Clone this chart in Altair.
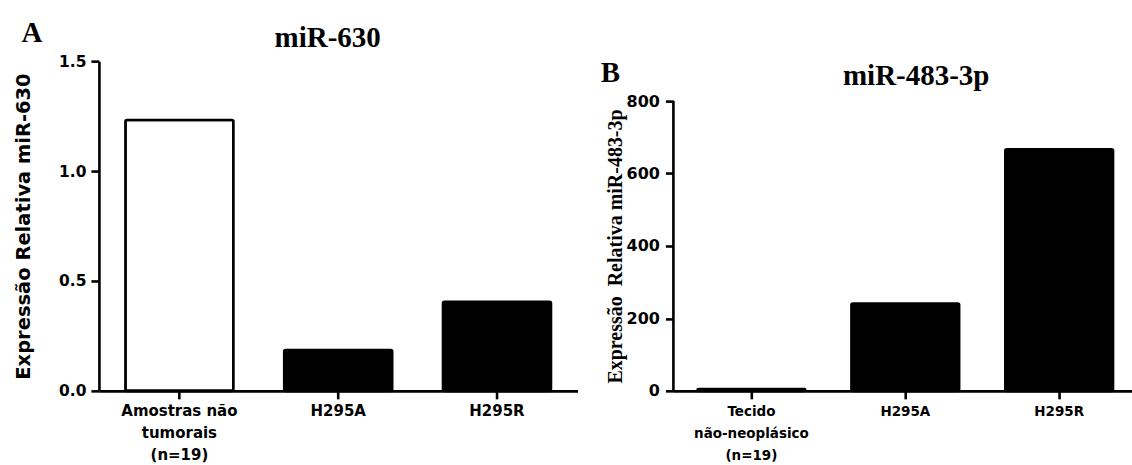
import altair as alt
import pandas as pd

# ---- miR-630 (painel A) ----
grupos_a = ["Amostras não|tumorais|(n=19)", "H295A", "H295R"]
tipos_a = ["controle", "linhagem", "linhagem"]
expr_a = [1.232, 0.186, 0.405]
ticks_a = [0.0, 0.5, 1.0, 1.5]

# ---- miR-483-3p (painel B) ----
grupos_b = ["Tecido|não-neoplásico|(n=19)", "H295A", "H295R"]
tipos_b = ["controle", "linhagem", "linhagem"]
expr_b = [5, 241, 667]
ticks_b = [0, 200, 400, 600, 800]

letras = ["A", "B"]
titulos = ["miR-630", "miR-483-3p"]
titulos_y = ["Expressão Relativa miR-630", "Expressão\u00a0 Relativa miR-483-3p"]

SANS = "DejaVu Sans"
SERIF = "Liberation Serif"
LW = 2.6

H = 330
H_B = 290          # pixel height of the 0-800 span in panel B
W_A, W_B = 479, 459
# panel B keeps the same pixel height; its axis stops at the last tick
Y_MAX_B = ticks_b[-1] * H / H_B


def eixo_x(label_size, padding):
    return alt.Axis(
        title=None, labelAngle=0, labelExpr="split(datum.label, '|')",
        labelFont=SANS, labelFontWeight="bold", labelFontSize=label_size,
        labelColor="black", labelLineHeight=22, labelPadding=padding,
        labelBaseline="top", labelLimit=0,
        tickSize=8, tickWidth=LW, tickColor="black",
        domainColor="black", domainWidth=LW, grid=False,
    )


def texto(valor, font, size, x, y):
    return alt.Chart(pd.DataFrame({"t": [valor]})).mark_text(
        font=font, fontWeight="bold", fontSize=size, color="black",
        align="center", baseline="alphabetic",
    ).encode(text="t:N", x=alt.value(x), y=alt.value(y))


# Painel A
df_a = pd.DataFrame({"grupo": grupos_a, "tipo": tipos_a, "valor": expr_a})
barras_a = alt.Chart(df_a).mark_bar(
    stroke="black", strokeWidth=LW, cornerRadius=1.5
).encode(
    x=alt.X("grupo:N", sort=grupos_a,
            scale=alt.Scale(paddingInner=0.32, paddingOuter=0.167, align=0.5),
            axis=eixo_x(15, 5)),
    y=alt.Y("valor:Q", scale=alt.Scale(domain=[0, ticks_a[-1]], nice=False),
            axis=alt.Axis(
                values=ticks_a, format=".1f", title=titulos_y[0],
                titleFont=SANS, titleFontSize=19.5, titleFontWeight="bold",
                titleColor="black", titlePadding=25,
                labelFont=SANS, labelFontWeight="bold", labelFontSize=15.5,
                labelColor="black", labelPadding=5,
                tickSize=8, tickWidth=LW, tickColor="black",
                domainColor="black", domainWidth=LW, grid=False)),
    fill=alt.condition("datum.tipo == 'controle'", alt.value("white"), alt.value("black")),
)
painel_a = alt.layer(
    barras_a,
    texto(letras[0], SERIF, 29, -67, -19),
    texto(titulos[0], SERIF, 29, 229, -14),
).properties(width=W_A, height=H)

# Painel B
df_b = pd.DataFrame({"grupo": grupos_b, "tipo": tipos_b, "valor": expr_b})
barras_b = alt.Chart(df_b).mark_bar(
    stroke="black", strokeWidth=LW, cornerRadius=1.5, fill="black"
).encode(
    x=alt.X("grupo:N", sort=grupos_b,
            scale=alt.Scale(paddingInner=0.30, paddingOuter=0.14, align=0.56),
            axis=eixo_x(13.5, 6)),
    y=alt.Y("valor:Q", scale=alt.Scale(domain=[0, Y_MAX_B], nice=False),
            axis=alt.Axis(
                values=ticks_b, format="d", title=titulos_y[1],
                titleFont=SERIF, titleFontSize=20, titleFontWeight="bold",
                titleColor="black", titlePadding=1,
                titleY=H - H_B / 2, titleAlign="center",
                labelFont=SANS, labelFontWeight="bold", labelFontSize=16,
                labelColor="black", labelPadding=6,
                tickSize=8, tickWidth=LW, tickColor="black",
                domain=False, grid=False)),
)
linha_y_b = alt.Chart(pd.DataFrame({"valor": [ticks_b[0]], "topo": [ticks_b[-1]]})).mark_rule(
    color="black", strokeWidth=LW
).encode(x=alt.value(0), y="valor:Q", y2="topo:Q")

painel_b = alt.layer(
    barras_b,
    linha_y_b,
    texto(letras[1], SERIF, 29, -63, 21),
    texto(titulos[1], SERIF, 29, 243, 24),
).properties(width=W_B, height=H)

chart = alt.hconcat(painel_a, painel_b, spacing=96, bounds="flush").properties(
    padding={"left": 13, "top": 19, "right": 0, "bottom": 0},
    background="white",
).configure_view(stroke=None)

chart.save("out.html", embed_options={"renderer": "svg", "actions": False})
